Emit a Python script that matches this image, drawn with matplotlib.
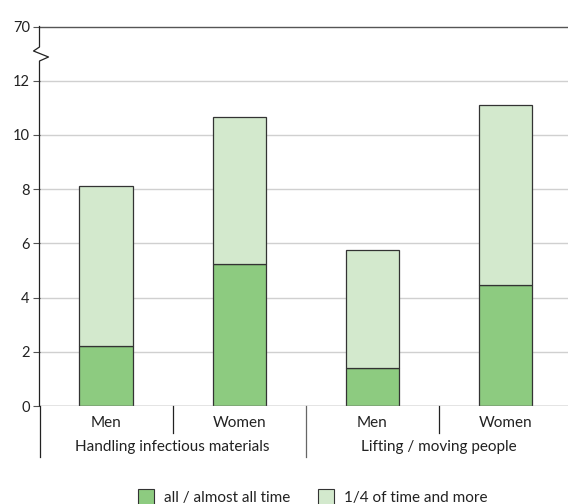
import matplotlib
matplotlib.use("Agg")
import matplotlib.pyplot as plt
from matplotlib.patches import Patch
from matplotlib.transforms import blended_transform_factory

plt.rcParams['font.family'] = ['Lato', 'DejaVu Sans']

groups = ["Handling infectious materials", "Lifting / moving people"]
sexes = ["Men", "Women", "Men", "Women"]
all_time = [2.2, 5.25, 1.42, 4.46]
quarter_total = [8.1, 10.65, 5.75, 11.12]
quarter_extra = [t - a for t, a in zip(quarter_total, all_time)]
yticks = [0, 2, 4, 6, 8, 10, 12]
ytop_label = "70"
series_names = ["all / almost all time", "1/4 of time and more"]

c_dark = "#8dcb80"
c_light = "#d3e9cd"
edge = "#333333"

W, H = 568, 504
fig = plt.figure(figsize=(W / 100, H / 100), dpi=100)
x0, x1 = 39.5, 568
y0, y1 = 406, 26.5
ax = fig.add_axes([x0 / W, 1 - y0 / H, (x1 - x0) / W, (y0 - y1) / H])

ytop = 14
ax.set_ylim(0, ytop)
slot = 133.2
ax.set_xlim(-0.5, -0.5 + (x1 - x0) / slot)

xs = list(range(len(sexes)))
ax.bar(xs, all_time, width=0.4, color=c_dark, edgecolor=edge, linewidth=0.9, zorder=3)
ax.bar(xs, quarter_extra, bottom=all_time, width=0.4, color=c_light, edgecolor=edge,
       linewidth=0.9, zorder=3)

for s in ax.spines.values():
    s.set_visible(False)
ax.set_xticks([])
ax.set_yticks(yticks + [ytop])
ax.set_yticklabels([str(v) for v in yticks] + [ytop_label])
ax.tick_params(axis='y', length=5, width=0.8, color="#555555", labelsize=10.5,
               labelcolor="#222222", pad=2)

for v in yticks[1:]:
    ax.axhline(v, color="#d0d0d0", linewidth=1.0, zorder=1)
ax.axhline(0, color="#777777", linewidth=1.0, zorder=4)
ax.axhline(ytop, color="#555555", linewidth=1.0, zorder=4, clip_on=False)

# left axis with break
tr = blended_transform_factory(ax.transAxes, ax.transData)
px = 1 / (x1 - x0)
unit = (y0 - y1) / ytop
zs = (y0 - 47) / unit
zz_y = [ytop, zs, zs - 4 / unit, zs - 10 / unit, zs - 14 / unit, 0]
zz_x = [0, 0, -6 * px, 9 * px, 0, 0]
ax.plot(zz_x, zz_y, transform=tr, color="#222222", linewidth=0.9, clip_on=False, zorder=5)

# lines below axis
ta = blended_transform_factory(ax.transData, ax.transAxes)
ah = y0 - y1
def yax(ypx):
    return -(ypx - y0) / ah

ax.plot([-0.5, -0.5], [0, yax(457)], transform=ta, color="#222222", lw=0.9, clip_on=False)
for xv in [0.5, 2.5]:
    ax.plot([xv, xv], [0, yax(433)], transform=ta, color="#222222", lw=0.9, clip_on=False)
ax.plot([1.5, 1.5], [0, yax(457)], transform=ta, color="#666666", lw=0.9, clip_on=False)

for xv, lab in zip(xs, sexes):
    ax.text(xv, yax(423), lab, transform=ta, ha='center', va='center', fontsize=11,
            color="#222222")
for gi, g in enumerate(groups):
    ax.text(gi * 2 + 0.5, yax(447), g, transform=ta, ha='center', va='center',
            fontsize=11, color="#222222")

handles = [Patch(facecolor=c_dark, edgecolor=edge, linewidth=0.8),
           Patch(facecolor=c_light, edgecolor=edge, linewidth=0.8)]
fig.legend(handles, series_names, loc='center', bbox_to_anchor=(312.5 / W, 1 - 497 / H),
           ncol=2, frameon=False, fontsize=11, handlelength=1.05, handleheight=1.2,
           handletextpad=0.65, columnspacing=1.8, labelcolor="#222222",
           borderpad=0, borderaxespad=0)

fig.savefig("out.png", dpi=100)
